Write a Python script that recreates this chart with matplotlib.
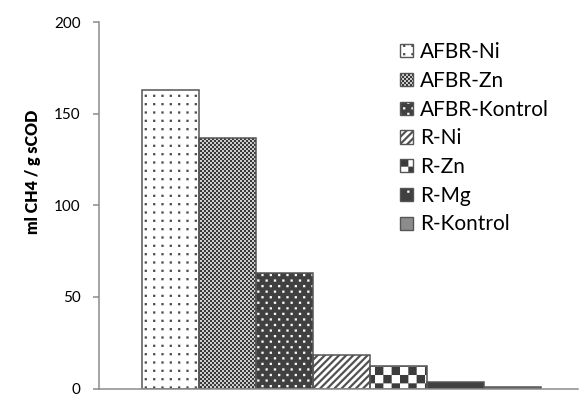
import warnings
import numpy as np
import matplotlib
matplotlib.use("Agg")
import matplotlib.pyplot as plt
import matplotlib.hatch as mhatch
from matplotlib.path import Path
from matplotlib.patches import Patch
from matplotlib.legend_handler import HandlerTuple

warnings.filterwarnings("ignore")

# ---- data -------------------------------------------------------------
series = ["AFBR-Ni", "AFBR-Zn", "AFBR-Kontrol", "R-Ni", "R-Zn", "R-Mg", "R-Kontrol"]
values = [163, 136.5, 63, 18.5, 12.5, 3.5, 1]
y_ticks = [0, 50, 100, 150, 200]
y_label = "ml CH4 / g sCOD"

DPI = 100
plt.rcParams["hatch.linewidth"] = 0.05
plt.rcParams["font.family"] = ["Lato", "DejaVu Sans"]


# ---- custom fill patterns (filled shapes in a one-inch hatch tile) ------
def _rect(x0, y0, x1, y1):
    return [(x0, y0), (x1, y0), (x1, y1), (x0, y1), (x0, y0)]


class ShapeHatch(mhatch.HatchPatternBase):
    char = None

    def __init__(self, hatch, density):
        self.filled = True
        self.polys = self.make_polys() if self.char in hatch else []
        self.num_vertices = sum(len(p) for p in self.polys)

    def make_polys(self):
        return []

    def set_vertices_and_codes(self, vertices, codes):
        i = 0
        for poly in self.polys:
            n = len(poly)
            vertices[i:i + n] = poly
            codes[i] = Path.MOVETO
            codes[i + 1:i + n - 1] = Path.LINETO
            codes[i + n - 1] = Path.CLOSEPOLY
            i += n


def checker_class(ch, n):
    class Checker(ShapeHatch):
        char = ch

        def make_polys(self):
            s = 1.0 / n
            out = []
            for r in range(n):
                for c in range(n):
                    if (r + c) % 2 == 0:
                        out.append(_rect(c * s, r * s, (c + 1) * s, (r + 1) * s))
            return out
    return Checker


def dots_class(ch, ncols, nrows, size_px, stagger):
    class Dots(ShapeHatch):
        char = ch

        def make_polys(self):
            h = size_px / DPI / 2
            out = []
            for r in range(nrows):
                cy = (r + 0.5) / nrows
                off = 0.5 if (stagger and r % 2) else 0.0
                for c in range(ncols + 1):
                    cx = (c + 0.5 + off) / ncols
                    if cx - h > 1:
                        continue
                    out.append(_rect(cx - h, cy - h, cx + h, cy + h))
                    if cx + h > 1:
                        out.append(_rect(cx - 1 - h, cy - h, cx - 1 + h, cy + h))
            return out
    return Dots


def stripes_class(ch, n, width):
    class Stripes(ShapeHatch):
        char = ch

        def make_polys(self):
            out = []
            for k in range(-n, n + 1):
                x0 = k / n
                out.append([(x0, 0), (x0 + width, 0), (x0 + width + 1, 1),
                            (x0 + 1, 1), (x0, 0)])
            return out
    return Stripes


mhatch._hatch_types.extend([
    checker_class("c", 50),                 # fine checker
    checker_class("k", 12),                 # coarse checker
    dots_class("d", 12, 12, 2.2, False),    # dark dots on white
    dots_class("w", 12, 18, 2.2, True),     # white dots on dark
    dots_class("s", 6, 6, 2.2, True),       # sparse white dots
    stripes_class("n", 14, 0.03),           # diagonal stripes
])

# ---- styles ---------------------------------------------------------------
faces = ["#ffffff", "#d8d8d8", "#404040", "#ffffff", "#ffffff", "#404040", "#8c8c8c"]
patterns = ["d", "c", "w", "n", "k", "s", ""]
pattern_colors = ["#4a4a4a", "#3a3a3a", "#ffffff", "#505050", "#3c3c3c", "#ffffff", "#8c8c8c"]
edge_color = "#555555"
axis_color = "#8c8c8c"

fig = plt.figure(figsize=(5.79, 3.96), dpi=DPI)
ax = fig.add_axes([99 / 579, 1 - 388.5 / 396, 479 / 579, 366.5 / 396])

x = np.arange(len(series))
fills = ax.bar(x, values, width=1.0, color=faces, linewidth=0, zorder=2)
for rect, pat, pc in zip(fills, patterns, pattern_colors):
    if pat:
        rect.set_hatch(pat)
        rect.set_edgecolor(pc)
outlines = ax.bar(x, values, width=1.0, fill=False, edgecolor=edge_color,
                  linewidth=1.1, zorder=3)

ax.set_xlim(-1.253, 7.14)
ax.set_ylim(0, 200)
ax.set_yticks(y_ticks)
ax.set_xticks([])
for side in ("top", "right"):
    ax.spines[side].set_visible(False)
for side in ("left", "bottom"):
    ax.spines[side].set_color(axis_color)
    ax.spines[side].set_linewidth(1.1)
    ax.spines[side].set_zorder(4)
ax.tick_params(axis="y", direction="out", length=4.3, width=1.1, color=axis_color,
               pad=9, labelsize=11, labelcolor="#000000")

ax.set_ylabel(y_label, fontsize=11.5, fontweight="heavy", va="center")
ax.yaxis.set_label_coords(-0.138, 0.59)

# ---- legend ---------------------------------------------------------------
handles = []
for face, pat, pc in zip(faces, patterns, pattern_colors):
    f = Patch(facecolor=face, hatch=pat or None, edgecolor=pc, linewidth=0)
    o = Patch(facecolor="none", edgecolor=edge_color, linewidth=1.0)
    handles.append((f, o))
leg = fig.legend(handles, series, loc="upper left",
                 bbox_to_anchor=(400 / 579, 1 - 42 / 396),
                 handler_map={tuple: HandlerTuple(ndivide=1, pad=0)},
                 frameon=False, fontsize=15, handlelength=0.6, handleheight=0.6,
                 handletextpad=0.38, labelspacing=0.42, borderpad=0, borderaxespad=0)

fig.savefig("out.png", dpi=DPI)
